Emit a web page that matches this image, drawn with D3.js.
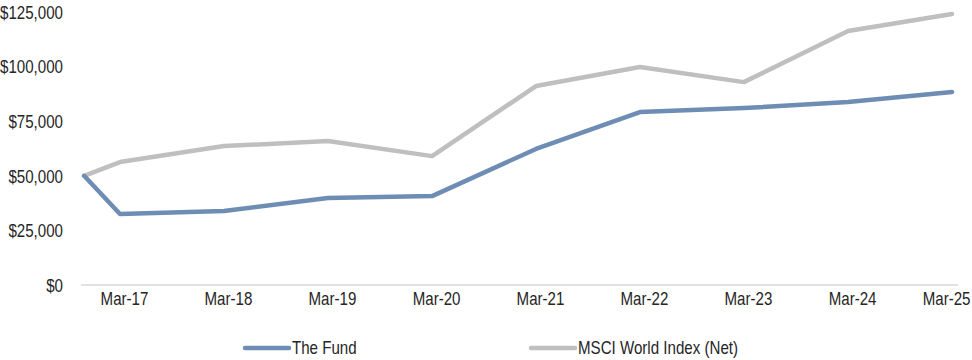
<!DOCTYPE html>
<html>
<head>
<meta charset="utf-8">
<script src="https://cdn.jsdelivr.net/npm/d3@7"></script>
<style>
  html, body { margin: 0; padding: 0; background: #fff; }
  svg { display: block; }
  text { font-family: "Liberation Sans", Arial, sans-serif; fill: #262626; }
</style>
</head>
<body>
<svg id="chart" width="972" height="360"></svg>
<script>
// ---- Data ----
const dates = ["2016-11-25", "2017-03-31", "2018-03-31", "2019-03-31", "2020-03-31",
               "2021-03-31", "2022-03-31", "2023-03-31", "2024-03-31", "2025-03-31"];
const fundValues = [50000, 32500, 33900, 39800, 40700, 62300, 79200, 81000, 83800, 88400];
const indexValues = [50000, 56300, 63600, 65900, 59000, 91100, 99800, 92900, 116300, 124100];
const tickDates = ["2017-03-31", "2018-03-31", "2019-03-31", "2020-03-31", "2021-03-31",
                   "2022-03-31", "2023-03-31", "2024-03-31", "2025-03-31"];
const yTicks = [0, 25000, 50000, 75000, 100000, 125000];
const seriesNames = ["The Fund", "MSCI World Index (Net)"];
const seriesColors = ["#6e8db4", "#bfbfbf"];

// ---- Setup ----
const FONT = "'Liberation Sans', Arial, sans-serif";
const FS = 18;
const SX = 0.84; // horizontal condensing to mimic a narrow face
const parse = d3.timeParse("%Y-%m-%d");
const svg = d3.select("#chart");

const x = d3.scaleTime()
  .domain([parse("2017-03-31"), parse("2025-03-31")])
  .range([120, 952]);
const y = d3.scaleLinear()
  .domain([0, 125000])
  .range([285, 12]);

// baseline
svg.append("line")
  .attr("x1", 81).attr("x2", 958)
  .attr("y1", y(0)).attr("y2", y(0))
  .attr("stroke", "#d9d9d9").attr("stroke-width", 1.5);

// y axis
const yAxis = d3.axisLeft(y)
  .tickValues(yTicks)
  .tickSize(0)
  .tickPadding(0)
  .tickFormat(d => "$" + d3.format(",")(d));
const gy = svg.append("g").attr("transform", "translate(63,0)").call(yAxis);
gy.select(".domain").remove();
gy.selectAll("text")
  .attr("font-size", FS)
  .attr("font-family", FONT)
  .attr("fill", "#262626")
  .attr("x", 0)
  .attr("dy", "0.35em")
  .attr("transform", `scale(${SX},1)`);

// x axis
const xAxis = d3.axisBottom(x)
  .tickValues(tickDates.map(parse))
  .tickSize(0)
  .tickPadding(0)
  .tickFormat(d3.timeFormat("%b-%y"));
const gx = svg.append("g").attr("transform", "translate(0,292)").call(xAxis);
gx.select(".domain").remove();
const nTicks = tickDates.length;
gx.selectAll("text")
  .attr("font-size", FS)
  .attr("font-family", FONT)
  .attr("fill", "#262626")
  .attr("dy", "0.35em")
  .attr("y", 7)
  .attr("text-anchor", (d, i) => i === nTicks - 1 ? "end" : "middle")
  .attr("x", (d, i) => i === nTicks - 1 ? (970 - x(d)) / SX : 4 / SX)
  .attr("transform", `scale(${SX},1)`);

// lines
const line = d3.line()
  .x((d, i) => x(parse(dates[i])))
  .y(d => y(d));

const series = [fundValues, indexValues];
// draw index first, then fund on top
[1, 0].forEach(k => {
  svg.append("path")
    .datum(series[k])
    .attr("d", line)
    .attr("fill", "none")
    .attr("stroke", seriesColors[k])
    .attr("stroke-width", 4.5)
    .attr("stroke-linejoin", "round")
    .attr("stroke-linecap", "round");
});

// legend
const legendX = [245, 531];
seriesNames.forEach((name, i) => {
  const g = svg.append("g").attr("transform", `translate(${legendX[i]},348)`);
  g.append("line")
    .attr("x1", 0).attr("x2", 44)
    .attr("y1", 0).attr("y2", 0)
    .attr("stroke", seriesColors[i])
    .attr("stroke-width", 4.5)
    .attr("stroke-linecap", "round");
  g.append("text")
    .attr("x", 47 / SX).attr("y", 0)
    .attr("dy", "0.35em")
    .attr("font-size", FS)
    .attr("font-family", FONT)
    .attr("transform", `scale(${SX},1)`)
    .text(name);
});
</script>
</body>
</html>
